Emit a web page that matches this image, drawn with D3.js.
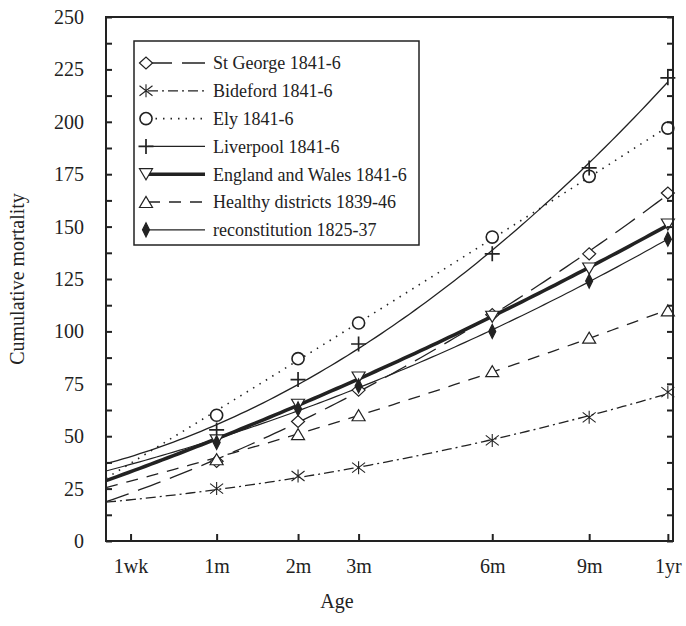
<!DOCTYPE html>
<html>
<head>
<meta charset="utf-8">
<script src="https://cdn.jsdelivr.net/npm/d3@7/dist/d3.min.js"></script>
<style>
  body { margin: 0; background: #fff; }
  text { font-family: "Liberation Serif", "Times New Roman", serif; fill: #222; }
</style>
</head>
<body>
<svg id="chart" width="686" height="626"></svg>
<script>
// ages on the x axis (days) and their labels
const tickDays = [7, 30, 61, 91, 182, 273, 365];
const tickLabels = ["1wk", "1m", "2m", "3m", "6m", "9m", "1yr"];
// ages at which each series was observed (1m .. 1yr)
const pointDays = [30, 61, 91, 182, 273, 365];

// cumulative mortality per 1000 births
const stGeorge     = [38, 57, 72, 108, 137, 166];
const bideford     = [25, 31, 35, 48, 59, 71];
const ely          = [60, 87, 104, 145, 174, 197];
const liverpool    = [53, 77, 94, 137, 178, 221];
const englandWales = [48, 65, 78, 107, 130, 151];
const healthy      = [39, 51, 60, 81, 97, 110];
const recon        = [47, 63, 74, 100, 124, 144];
// where each trend line meets the left axis (age 0)
const trendStart   = [19, 18, 31, 37, 29, 26, 34];

const yTicks = d3.range(0, 251, 12.5);

const svg = d3.select("#chart");
const margin = {left: 106, right: 13, top: 17, bottom: 85};
const W = +svg.attr("width"), H = +svg.attr("height");
const ink = "#222";

// biometric scale: log(n+1)^3, n in days
const bio = d => Math.pow(Math.log10(d + 1), 3);

const x = d3.scaleLinear().domain([0, 17]).range([margin.left, W - margin.right]);
const y = d3.scaleLinear().domain([0, 250]).range([H - margin.bottom, margin.top]);

// least squares quadratic, used for the trend lines
function quadFit(xs, ys) {
  let S = [0, 0, 0, 0, 0], T = [0, 0, 0];
  xs.forEach((xv, i) => {
    for (let k = 0; k < 5; k++) S[k] += Math.pow(xv, k);
    for (let k = 0; k < 3; k++) T[k] += ys[i] * Math.pow(xv, k);
  });
  const A = [[S[0], S[1], S[2], T[0]], [S[1], S[2], S[3], T[1]], [S[2], S[3], S[4], T[2]]];
  for (let i = 0; i < 3; i++) {
    for (let j = i + 1; j < 3; j++) {
      const f = A[j][i] / A[i][i];
      for (let k = i; k < 4; k++) A[j][k] -= f * A[i][k];
    }
  }
  const c = [0, 0, 0];
  for (let i = 2; i >= 0; i--) {
    let s = A[i][3];
    for (let k = i + 1; k < 3; k++) s -= A[i][k] * c[k];
    c[i] = s / A[i][i];
  }
  return t => c[0] + c[1] * t + c[2] * t * t;
}

const series = [
  {name: "St George 1841-6",           values: stGeorge,     dash: "24,10",     w: 1.3, mark: "diamond"},
  {name: "Bideford 1841-6",            values: bideford,     dash: "10,4,2,4",  w: 1.3, mark: "star"},
  {name: "Ely 1841-6",                 values: ely,          dash: "1.5,6",     w: 1.6, mark: "circle"},
  {name: "Liverpool 1841-6",           values: liverpool,    dash: null,        w: 1.3, mark: "plus"},
  {name: "England and Wales 1841-6",   values: englandWales, dash: null,        w: 3.6, mark: "tridown"},
  {name: "Healthy districts 1839-46",  values: healthy,      dash: "12,9",      w: 1.3, mark: "triup"},
  {name: "reconstitution 1825-37",     values: recon,        dash: null,        w: 1.2, mark: "fdiamond"}
];

function drawMarker(g, type) {
  const p = g.append("path").attr("stroke", ink).attr("stroke-width", 1.2).attr("fill", "#fff");
  if (type == "diamond") p.attr("d", "M-6.5,0L0,-6L6.5,0L0,6Z");
  if (type == "circle") p.attr("d", d3.symbol(d3.symbolCircle, 115)()).attr("stroke-width", 1.6);
  if (type == "plus") p.attr("d", "M-7.5,0H7.5M0,-7.5V7.5").attr("stroke-width", 1.7);
  if (type == "star") p.attr("d", "M0,-6.5V6.5M-6.5,-5L6.5,5M-6.5,5L6.5,-5").attr("stroke-width", 1.1);
  if (type == "tridown") p.attr("d", "M-6.5,-5.5H6.5L0,5.5Z");
  if (type == "triup") p.attr("d", "M-6.5,5.5H6.5L0,-5.5Z");
  if (type == "fdiamond") p.attr("d", "M-3.5,0L0,-7L3.5,0L0,7Z").attr("fill", ink);
}

// trend lines (fitted to the points plus the value at the left axis)
const xsPts = [0].concat(pointDays.map(bio));
const line = d3.line().x(d => x(d[0])).y(d => y(d[1]));
const curveG = svg.append("g");
series.forEach((s, si) => {
  const f = quadFit(xsPts, [trendStart[si]].concat(s.values));
  const pts = d3.range(0, 101).map(i => {
    const t = bio(365) * i / 100;
    return [t, f(t)];
  });
  curveG.append("path")
    .attr("d", line(pts))
    .attr("fill", "none")
    .attr("stroke", ink)
    .attr("stroke-width", s.w)
    .attr("stroke-dasharray", s.dash);
});

// markers
series.forEach(s => {
  s.values.forEach((v, i) => {
    const g = svg.append("g").attr("transform", `translate(${x(bio(pointDays[i]))},${y(v)})`);
    drawMarker(g, s.mark);
  });
});

// axes
const yAxisL = d3.axisLeft(y).tickValues(yTicks).tickSizeInner(-6).tickSizeOuter(0).tickPadding(22)
  .tickFormat(d => d % 25 == 0 ? d : "");
const yAxisR = d3.axisRight(y).tickValues(yTicks).tickSizeInner(-6).tickSizeOuter(0).tickFormat("");
const xAxis = d3.axisBottom(x).tickValues(tickDays.map(bio)).tickSizeInner(-7).tickSizeOuter(0).tickPadding(18)
  .tickFormat((d, i) => tickLabels[i]);

svg.append("g").attr("transform", `translate(${margin.left},0)`).call(yAxisL)
  .call(g => g.select(".domain").remove())
  .call(g => g.selectAll("line").attr("stroke", ink).attr("stroke-width", 2))
  .call(g => g.selectAll("text").style("font-size", "20px").attr("fill", ink));
svg.append("g").attr("transform", `translate(${W - margin.right},0)`).call(yAxisR)
  .call(g => g.select(".domain").remove())
  .call(g => g.selectAll("line").attr("stroke", ink).attr("stroke-width", 2));
svg.append("g").attr("transform", `translate(0,${H - margin.bottom})`).call(xAxis)
  .call(g => g.select(".domain").remove())
  .call(g => g.selectAll("line").attr("stroke", ink).attr("stroke-width", 2))
  .call(g => g.selectAll("text").style("font-size", "20px").attr("fill", ink));

// frame
svg.append("rect")
  .attr("x", margin.left).attr("y", margin.top)
  .attr("width", W - margin.left - margin.right)
  .attr("height", H - margin.top - margin.bottom)
  .attr("fill", "none").attr("stroke", ink).attr("stroke-width", 2);

// axis titles
svg.append("text").attr("x", 337).attr("y", 608).attr("text-anchor", "middle")
  .style("font-size", "20px").text("Age");
svg.append("text").attr("transform", "translate(24,279) rotate(-90)").attr("text-anchor", "middle")
  .style("font-size", "20px").text("Cumulative mortality");

// legend
const legend = svg.append("g");
legend.append("rect").attr("x", 134).attr("y", 41).attr("width", 285).attr("height", 204)
  .attr("fill", "#fff").attr("stroke", ink).attr("stroke-width", 1.5);
series.forEach((s, i) => {
  const ly = 63 + i * 27.8;
  legend.append("line").attr("x1", 148).attr("x2", 205).attr("y1", ly).attr("y2", ly)
    .attr("stroke", ink).attr("stroke-width", s.w).attr("stroke-dasharray", s.dash);
  drawMarker(legend.append("g").attr("transform", `translate(146,${ly})`), s.mark);
  legend.append("text").attr("x", 213).attr("y", ly).attr("dy", "0.35em")
    .style("font-size", "18px").text(s.name);
});
</script>
</body>
</html>
